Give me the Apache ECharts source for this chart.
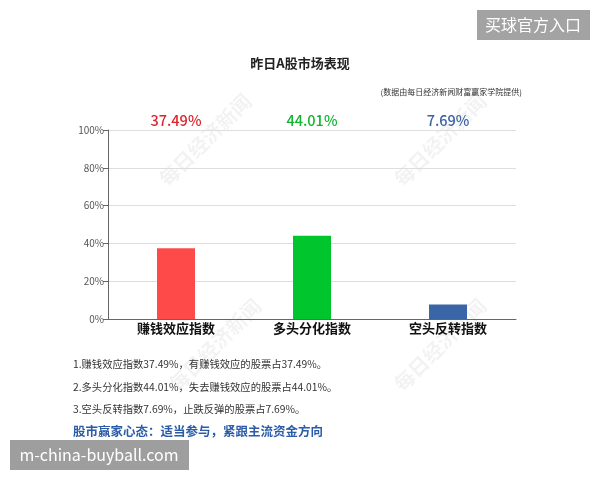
<!DOCTYPE html>
<html>
<head>
<meta charset="utf-8">
<script src="https://cdn.jsdelivr.net/npm/echarts@6/dist/echarts.min.js"></script>
<style>
  html, body { margin: 0; padding: 0; background: #fff; }
  #main { width: 600px; height: 480px; }
</style>
</head>
<body>
<div id="main"></div>
<script>
// 数据
const categories = ['赚钱效应指数', '多头分化指数', '空头反转指数'];
const values = [37.49, 44.01, 7.69];
const barColors = ['#ff4a4a', '#00c52c', '#3a66a8'];
const labelColors = ['#e0222b', '#10b532', '#3a62a6'];
const yTicks = [0, 20, 40, 60, 80, 100];
const notes = [
  '1.赚钱效应指数37.49%，有赚钱效应的股票占37.49%。',
  '2.多头分化指数44.01%，失去赚钱效应的股票占44.01%。',
  '3.空头反转指数7.69%，止跌反弹的股票占7.69%。'
];
const summary = '股市赢家心态：适当参与，紧跟主流资金方向';

const chart = echarts.init(document.getElementById('main'));
const font = '"Noto Sans CJK SC", "Noto Sans", sans-serif';

// 水印
const marks = [[205, 140], [440, 140], [215, 345], [440, 345]];
const watermark = marks.map(p => ({
  type: 'text', x: p[0], y: p[1], rotation: Math.PI / 4, z: 0,
  style: { text: '每日经济新闻', font: 'bold 20px ' + font, fill: 'rgba(0,0,0,0.05)', align: 'center', verticalAlign: 'middle' }
}));

const noteText = notes.map((t, i) => ({
  type: 'text', left: 73, top: 359 + i * 22.5,
  style: { text: t, font: '10.3px ' + font, fill: '#333' }
}));

var option = {
  animation: false,
  title: [
    { text: '昨日A股市场表现', left: 'center', top: 52, textStyle: { fontSize: 13, fontWeight: 'bold', color: '#222', fontFamily: font } },
    { text: '(数据由每日经济新闻财富赢家学院提供)', right: 73, top: 83, textStyle: { fontSize: 8, fontWeight: 'normal', color: '#333', fontFamily: font } }
  ],
  grid: { left: 108, right: 84, top: 130, bottom: 161 },
  xAxis: [
    {
      type: 'category', data: categories,
      axisLine: { lineStyle: { color: '#666' } },
      axisTick: { show: false },
      axisLabel: { color: '#111', fontSize: 13, fontWeight: 'bold', fontFamily: font, margin: 3 }
    },
    {
      type: 'category', data: categories, position: 'top',
      axisLine: { show: false }, axisTick: { show: false },
      axisLabel: {
        margin: 2, fontFamily: font,
        formatter: (v, i) => '{c' + i + '|' + values[i].toFixed(2) + '%}',
        rich: {
          c0: { color: labelColors[0], fontSize: 14.5, fontWeight: 500, fontFamily: font },
          c1: { color: labelColors[1], fontSize: 14.5, fontWeight: 500, fontFamily: font },
          c2: { color: labelColors[2], fontSize: 14.5, fontWeight: 500, fontFamily: font }
        }
      }
    }
  ],
  yAxis: {
    type: 'value', min: yTicks[0], max: yTicks[yTicks.length - 1], interval: 20,
    axisLine: { show: true, lineStyle: { color: '#666' } },
    axisTick: { show: true, lineStyle: { color: '#666' } },
    splitLine: { lineStyle: { color: '#ddd' } },
    axisLabel: { formatter: '{value}%', color: '#555', fontSize: 10, fontFamily: font, margin: 4 }
  },
  series: [{
    type: 'bar', data: values.map((v, i) => ({ value: v, itemStyle: { color: barColors[i] } })),
    barWidth: 38, xAxisIndex: 0
  }],
  graphic: watermark.concat(noteText).concat([
    { type: 'text', left: 73, top: 425, style: { text: summary, font: 'bold 12.5px ' + font, fill: '#2b5ca8' } },
    { type: 'rect', shape: { x: 477, y: 10, width: 113, height: 30 }, style: { fill: '#a3a3a3' }, z: 10 },
    { type: 'text', x: 533, y: 25, z: 11, style: { text: '买球官方入口', font: '16px ' + font, fill: '#fff', align: 'center', verticalAlign: 'middle' } },
    { type: 'rect', shape: { x: 10, y: 440, width: 179, height: 30 }, style: { fill: '#9e9e9e' }, z: 10 },
    { type: 'text', x: 99, y: 455, z: 11, style: { text: 'm-china-buyball.com', font: '16px ' + font, fill: '#fff', align: 'center', verticalAlign: 'middle' } }
  ])
};

chart.setOption(option);
</script>
</body>
</html>
